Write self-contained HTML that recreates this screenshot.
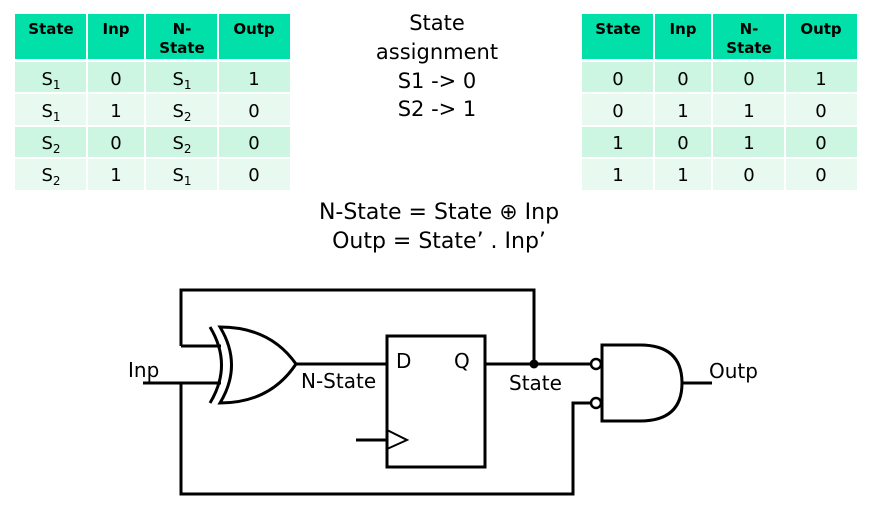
<!DOCTYPE html>
<html><head><meta charset="utf-8"><style>
html,body{margin:0;padding:0;background:#fff;width:870px;height:512px;overflow:hidden}
svg{display:block}
text{font-family:"DejaVu Sans","Liberation Sans",sans-serif;fill:#000}
</style></head><body>
<svg width="870" height="512" viewBox="0 0 870 512">
<!-- Left table -->
<g>
<rect x="15" y="14" width="275" height="45" fill="#00e0a8"/>
<rect x="15" y="62" width="275" height="30" fill="#ccf5e2"/>
<rect x="15" y="94" width="275" height="31" fill="#e8f9f0"/>
<rect x="15" y="127" width="275" height="30" fill="#ccf5e2"/>
<rect x="15" y="159" width="275" height="31" fill="#e8f9f0"/>
<g stroke="#fff" stroke-width="2"><line x1="87" y1="14" x2="87" y2="190"/><line x1="145" y1="14" x2="145" y2="190"/><line x1="218" y1="14" x2="218" y2="190"/></g>
<g text-anchor="middle" font-weight="bold" font-size="15"><text x="51" y="34">State</text><text x="116" y="34">Inp</text><text x="182" y="34">N-</text><text x="182" y="53">State</text><text x="254" y="34">Outp</text></g>
<g text-anchor="middle" font-size="18">
<text x="51" y="85">S<tspan font-size="12" dy="4">1</tspan></text><text x="116" y="85">0</text><text x="182" y="85">S<tspan font-size="12" dy="4">1</tspan></text><text x="254" y="85">1</text>
<text x="51" y="117">S<tspan font-size="12" dy="4">1</tspan></text><text x="116" y="117">1</text><text x="182" y="117">S<tspan font-size="12" dy="4">2</tspan></text><text x="254" y="117">0</text>
<text x="51" y="149">S<tspan font-size="12" dy="4">2</tspan></text><text x="116" y="149">0</text><text x="182" y="149">S<tspan font-size="12" dy="4">2</tspan></text><text x="254" y="149">0</text>
<text x="51" y="181">S<tspan font-size="12" dy="4">2</tspan></text><text x="116" y="181">1</text><text x="182" y="181">S<tspan font-size="12" dy="4">1</tspan></text><text x="254" y="181">0</text>
</g></g>
<!-- Right table -->
<g transform="translate(567,0)">
<rect x="15" y="14" width="275" height="45" fill="#00e0a8"/>
<rect x="15" y="62" width="275" height="30" fill="#ccf5e2"/>
<rect x="15" y="94" width="275" height="31" fill="#e8f9f0"/>
<rect x="15" y="127" width="275" height="30" fill="#ccf5e2"/>
<rect x="15" y="159" width="275" height="31" fill="#e8f9f0"/>
<g stroke="#fff" stroke-width="2"><line x1="87" y1="14" x2="87" y2="190"/><line x1="145" y1="14" x2="145" y2="190"/><line x1="218" y1="14" x2="218" y2="190"/></g>
<g text-anchor="middle" font-weight="bold" font-size="15"><text x="51" y="34">State</text><text x="116" y="34">Inp</text><text x="182" y="34">N-</text><text x="182" y="53">State</text><text x="254" y="34">Outp</text></g>
<g text-anchor="middle" font-size="18">
<text x="51" y="85">0</text><text x="116" y="85">0</text><text x="182" y="85">0</text><text x="254" y="85">1</text>
<text x="51" y="117">0</text><text x="116" y="117">1</text><text x="182" y="117">1</text><text x="254" y="117">0</text>
<text x="51" y="149">1</text><text x="116" y="149">0</text><text x="182" y="149">1</text><text x="254" y="149">0</text>
<text x="51" y="181">1</text><text x="116" y="181">1</text><text x="182" y="181">0</text><text x="254" y="181">0</text>
</g></g>
<!-- center text -->
<g text-anchor="middle" font-size="21">
<text x="437" y="30">State</text><text x="437" y="59">assignment</text><text x="437" y="88">S1 -&gt; 0</text><text x="437" y="116">S2 -&gt; 1</text>
<text x="439" y="219" font-size="22">N-State = State ⊕ Inp</text>
<text x="439" y="248" font-size="22">Outp = State’ . Inp’</text>
</g>
<!-- circuit -->
<g fill="none" stroke="#000" stroke-width="3">
<polyline points="181,346 181,290 534,290 534,364"/>
<polyline points="143,383 221,383"/>
<polyline points="181,346 221,346"/>
<polyline points="181,383 181,494 573,494 573,403 590,403"/>
<path d="M210,327 Q233,365 210,403"/>
<path d="M220,327 Q243,365 220,403 Q270,403 296,364 Q270,327 220,327 Z"/>
<line x1="296" y1="364" x2="387" y2="364"/>
<rect x="387" y="336" width="98" height="131"/>
<line x1="485" y1="364" x2="590" y2="364"/>
<line x1="356" y1="440" x2="387" y2="440"/>
<path d="M602,345 L640,345 Q682,345 682,383 Q682,421 640,421 L602,421 Z"/>
<line x1="682" y1="383" x2="712" y2="383"/>
</g>
<path d="M387,430 L407,440 L387,449" fill="none" stroke="#000" stroke-width="2"/>
<circle cx="534" cy="364" r="4.5" fill="#000"/>
<circle cx="596" cy="364" r="5" fill="#fff" stroke="#000" stroke-width="2.5"/>
<circle cx="596" cy="403" r="5" fill="#fff" stroke="#000" stroke-width="2.5"/>
<g font-size="20">
<text x="128" y="377">Inp</text>
<text x="301" y="388">N-State</text>
<text x="396" y="368">D</text>
<text x="454" y="368">Q</text>
<text x="509" y="390">State</text>
<text x="709" y="378">Outp</text>
</g>
</svg>
</body></html>
